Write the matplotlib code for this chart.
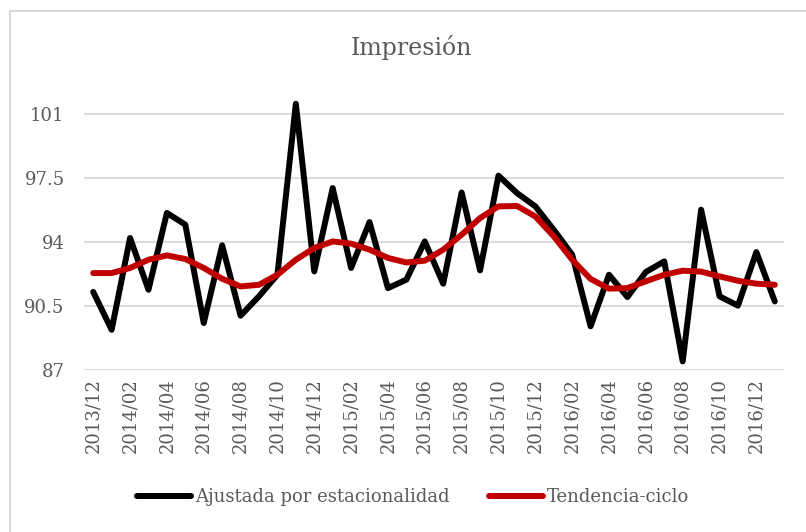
import matplotlib.pyplot as plt
import matplotlib.lines as mlines
import pandas as pd

# meses 2013/12 .. 2017/01
meses = [p.strftime('%Y/%m') for p in pd.period_range('2013-12', '2017-01', freq='M')]

ajustada = [91.27, 89.2, 94.22, 91.39, 95.59, 94.95, 89.57, 93.82, 89.97, 91.03,
            92.21, 101.56, 92.39, 96.95, 92.58, 95.09, 91.48, 91.94, 94.03, 91.72,
            96.71, 92.45, 97.63, 96.68, 95.95, 94.67, 93.31, 89.39, 92.21, 90.99,
            92.36, 92.94, 87.47, 95.77, 91.03, 90.52, 93.45, 90.75]

tendencia = [92.3, 92.3, 92.58, 93.03, 93.27, 93.07, 92.58, 91.99, 91.57, 91.66,
             92.21, 93.03, 93.67, 94.03, 93.91, 93.58, 93.13, 92.88, 92.98, 93.58,
             94.4, 95.31, 95.95, 95.97, 95.4, 94.31, 93.03, 91.98, 91.45, 91.48,
             91.85, 92.21, 92.43, 92.38, 92.12, 91.88, 91.72, 91.66]

yticks = [87, 90.5, 94, 97.5, 101]

gris = '#595959'
plt.rcParams['font.family'] = ['DejaVu Serif']

fig = plt.figure(figsize=(8.06, 5.32), dpi=100)
ax = fig.add_axes([84/806, 162/532, 700/806, 320/532])

x = list(range(len(meses)))
estilo = dict(lw=4.3, solid_joinstyle='round', solid_capstyle='round')
ax.plot(x, ajustada, color='black', label='Ajustada por estacionalidad', **estilo)
ax.plot(x, tendencia, color='#C00000', label='Tendencia-ciclo', **estilo)

ax.set_xlim(-0.5, len(meses) - 0.5)
ax.set_ylim(87, 104.5)
ax.set_yticks(yticks)
ax.set_yticklabels([f'{v:g}' for v in yticks], color=gris, fontsize=13)
ax.set_xticks(x[::2])
ax.set_xticklabels(meses[::2], rotation=90, color=gris, fontsize=13)
ax.tick_params(length=0, pad=6)
ax.tick_params(axis='y', pad=14)
for v in yticks:
    ax.axhline(v, color='#d9d9d9', lw=1.3, zorder=0)
for s in ax.spines.values():
    s.set_visible(False)

fig.text(411/806, 1 - 47/532, 'Impresión', ha='center', va='center', color=gris, fontsize=17)

fig.legend(loc='center', bbox_to_anchor=(413/806, 1 - 497/532), ncol=2, frameon=False,
           fontsize=13, labelcolor=gris, handlelength=3.0, handletextpad=0.2, columnspacing=2.2)

# marco del grafico (solo izquierda y arriba visibles)
fig.add_artist(mlines.Line2D([10/806, 10/806, 1.0], [0, 1 - 11/532, 1 - 11/532],
                             color='#d9d9d9', lw=1.5, transform=fig.transFigure))

fig.savefig('out.png', dpi=100)
